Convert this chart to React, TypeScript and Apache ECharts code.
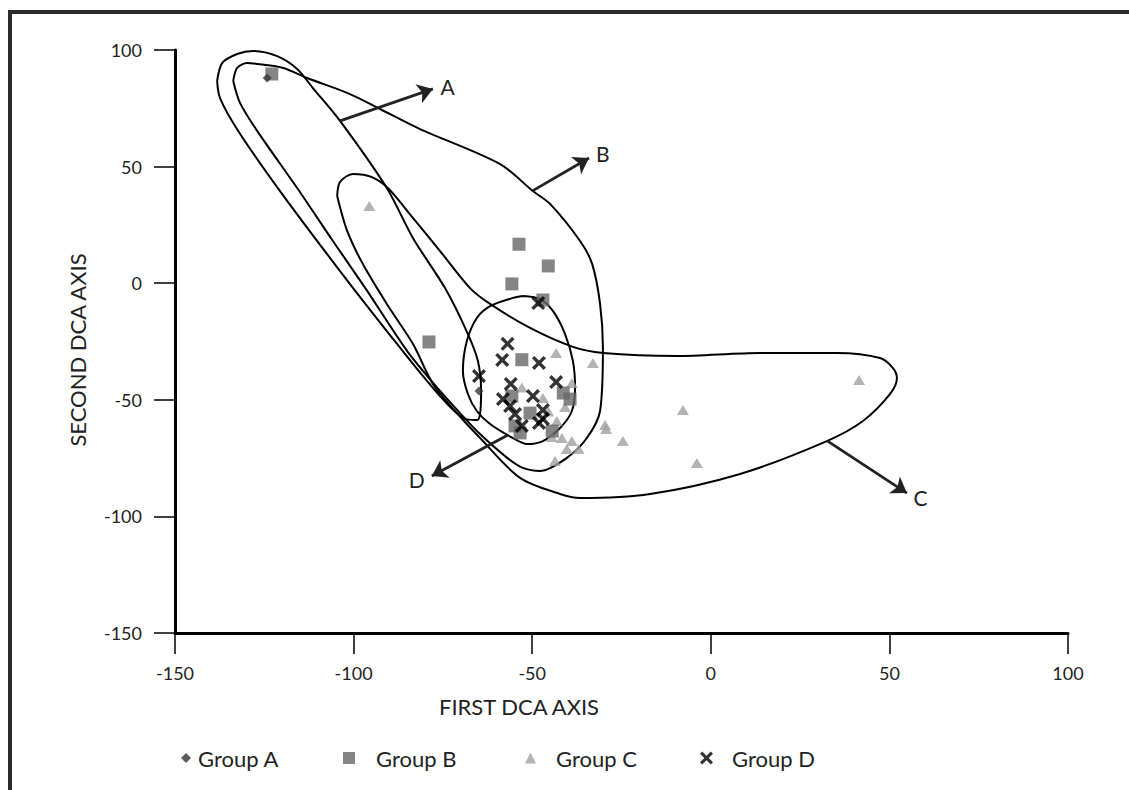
import React, { useEffect, useRef } from "react";
import * as echarts from "echarts";

const FONT = "Lato, 'Open Sans', sans-serif";

// Axis ranges
const X_MIN = -150, X_MAX = 100, X_STEP = 50;
const Y_MIN = -150, Y_MAX = 100, Y_STEP = 50;

// Scatter groups [first DCA axis, second DCA axis]
const groupA = [[-124.2, 88.0], [-64.9, -46.2]];
const groupB = [
  [-122.9, 89.7], [-53.7, 16.7], [-45.5, 7.4], [-55.7, -0.3], [-47.0, -7.2],
  [-78.9, -25.2], [-52.9, -32.8], [-41.3, -47.1], [-39.4, -49.7], [-55.7, -48.4],
  [-50.6, -55.7], [-54.8, -61.2], [-53.4, -64.2], [-44.4, -63.4],
];
const groupC = [
  [-95.6, 33.1], [-43.3, -29.9], [-33.0, -34.2], [-52.9, -44.7], [-38.9, -42.8],
  [-47.0, -49.2], [-40.8, -53.1], [-45.5, -55.0], [-43.1, -59.1], [-44.5, -65.9],
  [-41.7, -66.4], [-38.9, -67.7], [-40.3, -71.1], [-37.0, -71.1], [-43.6, -76.2],
  [-29.6, -60.8], [-29.3, -62.5], [-24.6, -67.7], [-7.8, -54.4], [-3.9, -77.1],
  [41.5, -41.5],
];
const groupD = [
  [-48.3, -8.5], [-56.9, -26.0], [-58.4, -32.9], [-48.1, -34.2], [-64.9, -39.8],
  [-56.0, -43.2], [-43.3, -42.4], [-49.8, -48.4], [-58.2, -49.7], [-56.2, -52.7],
  [-47.0, -54.4], [-54.8, -56.1], [-47.0, -58.2], [-48.1, -59.9], [-52.9, -61.2],
];

// Group envelopes (closed outlines)
const contourA = [
  [-138.2, 86.7], [-136.8, 94.4], [-132.6, 98.3], [-128.1, 99.6], [-121.4, 97.4],
  [-115.8, 91.9], [-111.4, 83.7], [-103.8, 69.6], [-90.7, 40.8], [-83.4, 19.4],
  [-74.4, -2.1], [-68.0, -21.8], [-65.2, -33.4], [-64.3, -46.2], [-64.6, -56.1],
  [-65.5, -58.7], [-69.4, -57.8], [-77.8, -44.9], [-90.7, -20.5], [-103.8, 5.2],
  [-120.6, 39.5], [-132.3, 65.3], [-137.4, 79.4], [-138.2, 86.7],
];
const contourB = [
  [-133.7, 86.7], [-132.6, 92.3], [-129.8, 94.4], [-127.0, 94.0], [-119.7, 92.3],
  [-113.0, 88.0], [-101.0, 81.1], [-92.6, 74.7], [-81.4, 66.1], [-59.0, 51.1],
  [-49.8, 39.5], [-45.0, 34.0], [-36.6, 18.1], [-33.2, 8.2], [-31.0, -8.9],
  [-30.2, -27.8], [-31.0, -54.8], [-34.7, -66.4], [-40.3, -74.9], [-47.8, -80.5],
  [-52.6, -79.2], [-57.0, -74.9], [-64.6, -64.7], [-70.2, -55.7], [-75.8, -46.2],
  [-85.0, -29.1], [-96.2, -3.3], [-105.8, 18.1], [-115.8, 40.8], [-127.0, 65.3],
  [-131.8, 77.3], [-133.7, 86.7],
];
const contourC = [
  [-104.6, 37.4], [-103.8, 43.4], [-100.2, 46.8], [-94.9, 45.5], [-90.4, 40.8],
  [-83.4, 28.0], [-75.8, 13.8], [-67.4, -2.1], [-61.8, -8.9], [-50.6, -19.2],
  [-38.6, -27.3], [-30.2, -29.9], [-9.5, -31.2], [13.8, -29.9], [35.3, -29.9],
  [47.4, -32.1], [51.0, -36.4], [52.1, -40.7], [50.2, -47.5], [42.6, -59.1],
  [32.5, -67.7], [8.2, -81.8], [-17.0, -90.4], [-36.6, -92.1], [-42.2, -90.4],
  [-53.4, -83.5], [-64.6, -66.4], [-71.6, -54.8], [-77.8, -43.2], [-83.4, -26.0],
  [-90.7, -8.9], [-97.4, 8.2], [-101.8, 22.4], [-104.6, 37.4],
];
const contourD = [
  [-52.6, -5.5], [-47.8, -6.8], [-44.2, -11.9], [-40.8, -21.8], [-38.6, -33.4],
  [-38.0, -44.9], [-38.9, -54.8], [-42.2, -62.1], [-47.0, -67.7], [-51.5, -69.0],
  [-55.4, -66.4], [-61.8, -60.4], [-65.5, -54.8], [-68.0, -47.5], [-69.4, -37.6],
  [-68.3, -24.8], [-65.5, -14.9], [-61.8, -9.8], [-55.4, -6.3], [-52.6, -5.5],
];

// Arrows pointing from each envelope to its label
const arrowLabels = ["A", "B", "C", "D"];
const arrowStarts = [[-103.8, 69.6], [-49.8, 39.7], [32.7, -67.7], [-56.8, -65.1]];
const arrowEnds = [[-77.8, 83.3], [-34.1, 53.7], [54.9, -90.0], [-78.1, -82.7]];

const groupNames = ["Group A", "Group B", "Group C", "Group D"];

const X_PATH =
  "path://M0,1.7L1.7,0L5,3.3L8.3,0L10,1.7L6.7,5L10,8.3L8.3,10L5,6.7L1.7,10L0,8.3L3.3,5Z";

export default function App() {
  const ref = useRef<HTMLDivElement>(null);

  useEffect(() => {
    if (!ref.current) return;
    const chart = echarts.init(ref.current, null, { renderer: "svg" });

    const contourSeries = [contourA, contourB, contourC, contourD].map((c, i) => ({
      type: "line",
      name: "envelope" + i,
      data: c,
      smooth: 0.3,
      symbol: "none",
      silent: true,
      z: 1,
      lineStyle: { color: "#000", width: 2 },
      ...(i === 3
        ? {
            markLine: {
              silent: true,
              symbol: ["none", "arrow"],
              symbolSize: 15,
              precision: 2,
              lineStyle: { color: "#222", width: 2.8, type: "solid" },
              label: {
                show: true,
                position: "end",
                formatter: "{b}",
                color: "#222",
                fontSize: 21,
                fontFamily: FONT,
                distance: 8,
              },
              emphasis: { disabled: true },
              data: arrowLabels.map((l, k) => [
                { name: l, coord: arrowStarts[k] },
                { coord: arrowEnds[k] },
              ]),
            },
          }
        : {}),
    }));

    const legendBase = {
      top: 747,
      padding: 0,
      selectedMode: false,
      itemWidth: 10,
      itemHeight: 10,
    };
    const legendText = (pad: number) => ({
      fontSize: 22,
      color: "#222",
      fontFamily: FONT,
      padding: [0, 0, 0, pad],
    });

    chart.setOption({
      animation: false,
      backgroundColor: "#fff",
      grid: { left: 175, right: 61, top: 50, bottom: 157, containLabel: false },
      xAxis: {
        type: "value",
        min: X_MIN,
        max: X_MAX,
        interval: X_STEP,
        axisLine: { onZero: false, lineStyle: { color: "#000", width: 3 } },
        axisTick: { show: true, inside: false, length: 21, lineStyle: { color: "#000", width: 1.5 } },
        axisLabel: { margin: 31, fontSize: 18, color: "#222", fontFamily: FONT },
        splitLine: { show: false },
      },
      yAxis: {
        type: "value",
        min: Y_MIN,
        max: Y_MAX,
        interval: Y_STEP,
        axisLine: { show: true, onZero: false, lineStyle: { color: "#000", width: 3 } },
        axisTick: { show: true, inside: false, length: 21, lineStyle: { color: "#000", width: 1.5 } },
        axisLabel: { margin: 33, fontSize: 18, color: "#222", fontFamily: FONT },
        splitLine: { show: false },
      },
      legend: [
        { ...legendBase, left: 181, data: [{ name: groupNames[0], icon: "diamond" }], textStyle: legendText(2) },
        { ...legendBase, left: 343, itemWidth: 12, itemHeight: 12, data: [{ name: groupNames[1], icon: "rect" }], textStyle: legendText(16) },
        { ...legendBase, left: 525, itemWidth: 11, itemHeight: 11, data: [{ name: groupNames[2], icon: "triangle" }], textStyle: legendText(15) },
        { ...legendBase, left: 700, itemWidth: 13, itemHeight: 13, data: [{ name: groupNames[3], icon: X_PATH }], textStyle: legendText(14) },
      ],
      graphic: [
        {
          type: "polyline",
          shape: { points: [[10, 800], [10, 12], [1140, 12]] },
          style: { stroke: "#2b2b2b", lineWidth: 4, fill: null },
          silent: true,
        },
        {
          type: "text",
          x: 519,
          y: 706,
          style: {
            text: "FIRST DCA AXIS",
            fontSize: 22,
            fontFamily: FONT,
            fill: "#222",
            align: "center",
            verticalAlign: "middle",
          },
        },
        {
          type: "text",
          x: 77,
          y: 350,
          rotation: Math.PI / 2,
          style: {
            text: "SECOND DCA AXIS",
            fontSize: 22,
            fontFamily: FONT,
            fill: "#222",
            align: "center",
            verticalAlign: "middle",
          },
        },
      ],
      series: [
        ...contourSeries,
        {
          type: "scatter",
          name: groupNames[2],
          data: groupC,
          symbol: "triangle",
          symbolSize: [12, 10],
          itemStyle: { color: "#a0a0a0" },
          z: 2,
        },
        {
          type: "scatter",
          name: groupNames[1],
          data: groupB,
          symbol: "rect",
          symbolSize: 13,
          itemStyle: { color: "#666666" },
          z: 3,
        },
        {
          type: "scatter",
          name: groupNames[0],
          data: groupA,
          symbol: "diamond",
          symbolSize: 9,
          itemStyle: { color: "#333333" },
          z: 4,
        },
        {
          type: "scatter",
          name: groupNames[3],
          data: groupD,
          symbol: X_PATH,
          symbolSize: 14,
          itemStyle: { color: "#000000" },
          z: 5,
        },
      ],
    });

    return () => chart.dispose();
  }, []);

  return (
    <div
      ref={ref}
      style={{ position: "fixed", left: 0, top: 0, width: 1129, height: 790, background: "#fff" }}
    />
  );
}
